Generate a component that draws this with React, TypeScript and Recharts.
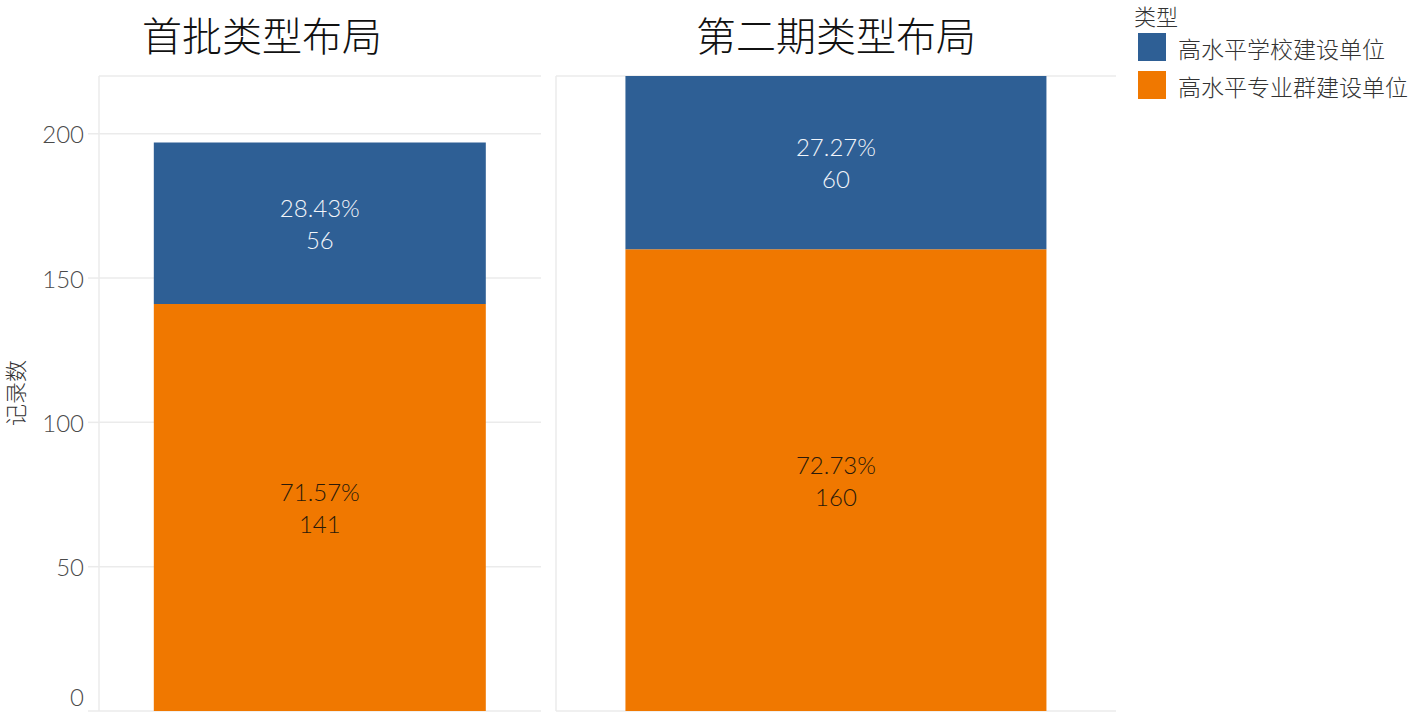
import React from 'react';
import { BarChart, Bar, XAxis, YAxis, CartesianGrid, LabelList } from 'recharts';

const panelTitles = ['首批类型布局', '第二期类型布局'];
const seriesNames = ['高水平学校建设单位', '高水平专业群建设单位'];
const schoolValues = [56, 60];
const groupValues = [141, 160];
const yTicks = [0, 50, 100, 150, 200];
const yDomain = [0, 220];
const legendTitle = '类型';
const yLabel = '记录数';

const BLUE = '#2e5f95';
const ORANGE = '#f07800';
const GRID = '#ebebeb';
const NUM_FONT = 'Lato, "Open Sans", sans-serif';
const CJK_FONT = '"Noto Sans CJK SC", sans-serif';

const YTick = (props: any) => {
  const { x, y, payload } = props;
  const dy = payload.value === 0 ? -15 : 0;
  return (
    <text x={x} y={y + dy} textAnchor="end" dominantBaseline="central" fill="#4a4a4a"
      fontFamily={NUM_FONT} fontWeight={300} fontSize={24}>
      {payload.value}
    </text>
  );
};

const makeLabel = (panel: number, color: string) => (props: any) => {
  const { x, y, width, height, value } = props;
  const total = schoolValues[panel] + groupValues[panel];
  const pct = ((value / total) * 100).toFixed(2) + '%';
  const cx = x + width / 2;
  const cy = y + height / 2;
  return (
    <g>
      <text x={cx} y={cy - 16} textAnchor="middle" dominantBaseline="central" fill={color}
        fontFamily={NUM_FONT} fontWeight={300} fontSize={24}>{pct}</text>
      <text x={cx} y={cy + 16} textAnchor="middle" dominantBaseline="central" fill={color}
        fontFamily={NUM_FONT} fontWeight={300} fontSize={24}>{value}</text>
    </g>
  );
};

const Panel = ({ index, left, width, marginRight, showTicks }: any) => {
  const data = [{ name: panelTitles[index], school: schoolValues[index], group: groupValues[index] }];
  return (
    <div style={{ position: 'absolute', left, top: 0, width, height: 713 }}>
      <BarChart width={width} height={713} data={data} barCategoryGap="12.4%"
        margin={{ top: 76, right: marginRight, bottom: 2, left: 0 }}>
        <CartesianGrid vertical={false} stroke={GRID} strokeWidth={1.5} />
        <XAxis dataKey="name" height={0} tick={false} tickLine={false} axisLine={{ stroke: GRID, strokeWidth: 1.5 }} />
        {showTicks ? (
          <YAxis width={99} domain={yDomain} ticks={yTicks} interval={0} tickSize={11} tickMargin={4}
            tickLine={{ stroke: GRID, strokeWidth: 1.5 }} axisLine={{ stroke: GRID, strokeWidth: 1.5 }} tick={<YTick />} />
        ) : (
          <YAxis width={11} domain={yDomain} ticks={yTicks} tick={false} tickLine={false}
            axisLine={{ stroke: GRID, strokeWidth: 1.5 }} />
        )}
        <Bar dataKey="group" stackId="a" fill={ORANGE} isAnimationActive={false}>
          <LabelList dataKey="group" content={makeLabel(index, '#2a1a0a')} />
        </Bar>
        <Bar dataKey="school" stackId="a" fill={BLUE} isAnimationActive={false}>
          <LabelList dataKey="school" content={makeLabel(index, '#f2f5fa')} />
        </Bar>
      </BarChart>
    </div>
  );
};

export default function App() {
  return (
    <div style={{ position: 'absolute', left: 0, top: 0, width: 1417, height: 713, background: '#fff', overflow: 'hidden' }}>
      <Panel index={0} left={0} width={545} marginRight={4} showTicks />
      <Panel index={1} left={545} width={575} marginRight={4} showTicks={false} />
      <svg style={{ position: 'absolute', left: 0, top: 0 }} width={1417} height={713} pointerEvents="none">
        <text x={262} y={34} textAnchor="middle" dominantBaseline="central" fontFamily={CJK_FONT}
          fontWeight={300} fontSize={40} fill="#111">{panelTitles[0]}</text>
        <text x={836} y={34} textAnchor="middle" dominantBaseline="central" fontFamily={CJK_FONT}
          fontWeight={300} fontSize={40} fill="#111">{panelTitles[1]}</text>
        <text x={14} y={393} textAnchor="middle" dominantBaseline="central" fontFamily={CJK_FONT}
          fontWeight={300} fontSize={22} fill="#333" transform="rotate(-90 14 393)">{yLabel}</text>
        <text x={1134} y={15} dominantBaseline="central" fontFamily={CJK_FONT} fontWeight={300}
          fontSize={22} fill="#333">{legendTitle}</text>
        {seriesNames.map((n, i) => (
          <g key={n}>
            <rect x={1138} y={33 + i * 38} width={28} height={28} fill={i === 0 ? BLUE : ORANGE} />
            <text x={1178} y={48 + i * 38} dominantBaseline="central" fontFamily={CJK_FONT} fontWeight={300}
              fontSize={23} fill="#333">{n}</text>
          </g>
        ))}
      </svg>
    </div>
  );
}
